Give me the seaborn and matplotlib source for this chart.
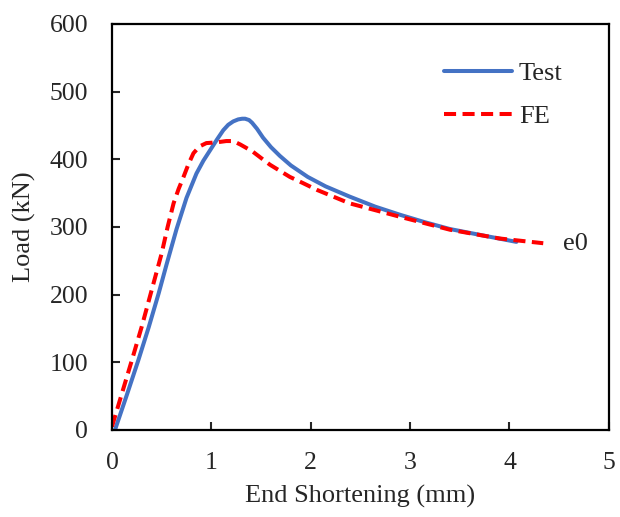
import seaborn as sns
import pandas as pd
import matplotlib.pyplot as plt

# Test curve (mm, kN)
test_x = [0.03, 0.15, 0.265, 0.37, 0.47, 0.55, 0.65, 0.75, 0.85, 0.92, 0.99, 1.06, 1.12, 1.17, 1.22,
          1.27, 1.31, 1.34, 1.38, 1.41, 1.46, 1.52, 1.60, 1.69, 1.80, 1.97, 2.15, 2.39, 2.65, 2.90,
          3.15, 3.40, 3.75, 4.07]
test_y = [0, 52, 103, 152, 202, 245, 297, 343, 379, 398, 414, 430, 443, 451, 456,
          459, 460, 460, 458, 454, 445, 432, 418, 405, 391, 374, 360, 345, 330, 318,
          307, 297, 287, 278]

# FE curve
fe_x = [0.0, 0.10, 0.20, 0.30, 0.40, 0.50, 0.56, 0.62, 0.67, 0.72, 0.77, 0.82, 0.88, 0.95, 1.05,
        1.15, 1.22, 1.29, 1.35, 1.42, 1.50, 1.59, 1.79, 1.92, 2.06, 2.39, 2.90, 3.40, 3.90, 4.34]
fe_y = [5, 54, 103, 153, 207, 261, 300, 335, 356, 374, 393, 409, 419, 424, 425,
        427, 427, 422, 417, 411, 402, 392, 374, 365, 355, 335, 315, 296, 283, 276]

df = pd.concat([
    pd.DataFrame({"x": test_x, "y": test_y, "series": "Test"}),
    pd.DataFrame({"x": fe_x, "y": fe_y, "series": "FE"}),
])

sns.set_style("ticks")
plt.rcParams['font.family'] = ['Liberation Serif', 'DejaVu Serif']

fig = plt.figure(figsize=(6.2, 5.17), dpi=100)
ax = fig.add_axes([0.1806, 0.1683, 0.8014, 0.7853])

sns.lineplot(data=df, x="x", y="y", hue="series", style="series",
             palette={"Test": "#4472C4", "FE": "#FF0000"},
             dashes={"Test": "", "FE": (3, 1.6)},
             sort=False, estimator=None, linewidth=2.9, ax=ax)

ax.set_xlim(0, 5)
ax.set_ylim(0, 600)
ax.set_xticks([0, 1, 2, 3, 4, 5])
ax.set_yticks(range(0, 601, 100))
ax.tick_params(axis="y", direction="in", length=6, width=1.5, labelsize=18.5, pad=17)
ax.tick_params(axis="x", direction="in", length=6, width=1.5, labelsize=18.5, pad=16)
for s in ax.spines.values():
    s.set_linewidth(1.6)
    s.set_color("black")

ax.set_xlabel("End Shortening (mm)", fontsize=19, labelpad=8)
ax.set_ylabel("Load (kN)", fontsize=19, labelpad=10)

ax.text(4.54, 275, "e0", fontsize=19, va="center", ha="left")

leg = ax.legend(loc="upper left", bbox_to_anchor=(0.62, 0.965), frameon=False,
                handlelength=2.6, labelspacing=0.72, handletextpad=0.25, fontsize=19)
for line in leg.get_lines():
    line.set_linewidth(2.9)

fig.savefig("out.png", dpi=100)
